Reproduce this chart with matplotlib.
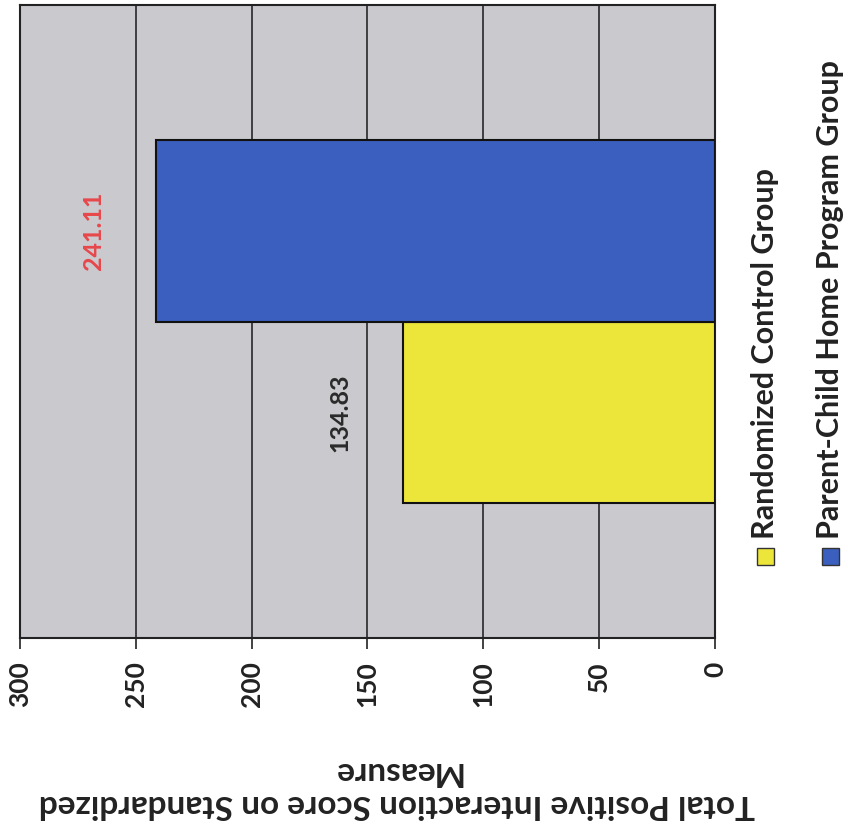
import matplotlib.pyplot as plt
from matplotlib.patches import Rectangle

plt.rcParams['font.family'] = ['Lato', 'DejaVu Sans']

groups = ['Randomized Control Group', 'Parent-Child Home Program Group']
scores = [134.83, 241.11]
bar_colors = ['#ece63a', '#3b5fbe']
label_colors = ['#2a2a2a', '#e8474a']
ticks = [0, 50, 100, 150, 200, 250, 300]

fig = plt.figure(figsize=(8.48, 8.36), dpi=100)
ax = fig.add_axes([20 / 848, 198 / 836, 695 / 848, 633 / 836])
ax.set_facecolor('#c9c9ce')

# horizontal bars, value axis runs right to left
pos = [-0.2875, 0.2875]
ax.barh(pos, scores, height=0.575, color=bar_colors, edgecolor='#111111',
        linewidth=1.5, zorder=3)
for p, v, c in zip(pos, scores, label_colors):
    ax.annotate(f'{v:.2f}', (v, p), xytext=(-45, 0), textcoords='offset points',
                rotation=90, ha='center', va='center', color=c,
                fontsize=18, fontweight='bold')

ax.set_xlim(300, 0)
ax.set_ylim(-1, 1)
ax.set_xticks(ticks)
ax.set_xticklabels([str(t) for t in ticks], rotation=90, fontsize=19,
                   fontweight='bold', color='#222222')
ax.tick_params(axis='x', length=8, width=1.2, pad=9, color='#222222')
ax.set_yticks([])
ax.grid(axis='x', color='#1a1a1a', linewidth=1.1, zorder=1)
for s in ax.spines.values():
    s.set_color('#222222')
    s.set_linewidth(1.5)

fig.text(397 / 848, 1 - 788 / 836,
         'Total Positive Interaction Score on Standardized\nMeasure',
         rotation=180, ha='center', va='center', fontsize=24,
         fontweight='bold', color='#222222', linespacing=1.15)

# legend entries drawn by hand so they can be turned on their side
for xc, name, col in zip([765, 830], groups, bar_colors):
    fig.patches.append(Rectangle(((xc - 8) / 848, 1 - 565 / 836), 17 / 848, 17 / 836,
                                 transform=fig.transFigure, facecolor=col,
                                 edgecolor='#333333', linewidth=1))
    fig.text(xc / 848, 1 - 539 / 836, name, rotation=90, ha='center', va='bottom',
             fontsize=22, fontweight='bold', color='#222222')

fig.savefig('out.png', dpi=100)
